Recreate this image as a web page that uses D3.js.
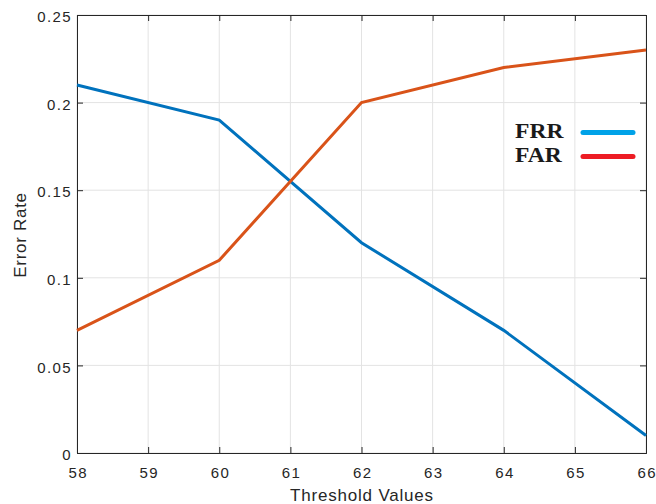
<!DOCTYPE html>
<html><head><meta charset="utf-8">
<script src="https://cdn.jsdelivr.net/npm/d3@7"></script>
<style>body{margin:0;background:#fff}svg{display:block}</style>
</head><body>
<svg id="c" width="656" height="504"></svg>
<script>
const thresholds = [58, 60, 62, 64, 66];
const frr = [0.21, 0.19, 0.12, 0.07, 0.01];
const far = [0.07, 0.11, 0.20, 0.22, 0.23];
const xTicks = [58, 59, 60, 61, 62, 63, 64, 65, 66];
const yTicks = [0, 0.05, 0.1, 0.15, 0.2, 0.25];
const legendNames = ["FRR", "FAR"];
const legendColors = ["#00a2e8", "#ed1c24"];

const svg = d3.select("#c");
const m = {l: 77, r: 10, t: 15, b: 51};
const W = 656, H = 504;
const x = d3.scaleLinear().domain([58, 66]).range([m.l, W - m.r]);
const y = d3.scaleLinear().domain([0, 0.25]).range([H - m.b, m.t]);
const font = "'Liberation Sans', Arial, sans-serif";

// grid
svg.append("g").selectAll("line").data(xTicks).join("line")
  .attr("x1", d => x(d)).attr("x2", d => x(d)).attr("y1", y(0)).attr("y2", y(0.25))
  .attr("stroke", "#e3e3e3").attr("stroke-width", 1);
svg.append("g").selectAll("line").data(yTicks).join("line")
  .attr("y1", d => y(d)).attr("y2", d => y(d)).attr("x1", x(58)).attr("x2", x(66))
  .attr("stroke", "#e3e3e3").attr("stroke-width", 1);

// axes (inward ticks)
const tickLen = 6;
const gx = svg.append("g").attr("transform", `translate(0,${y(0)})`)
  .call(d3.axisBottom(x).tickValues(xTicks).tickSize(-tickLen).tickPadding(14).tickFormat(d3.format("d")));
const gxt = svg.append("g").attr("transform", `translate(0,${y(0.25)})`)
  .call(d3.axisTop(x).tickValues(xTicks).tickSize(-tickLen).tickFormat(""));
const gy = svg.append("g").attr("transform", `translate(${x(58)},0)`)
  .call(d3.axisLeft(y).tickValues(yTicks).tickSize(-tickLen).tickPadding(5).tickFormat(d => d === 0 ? "0" : d3.format("~g")(d)));
const gyr = svg.append("g").attr("transform", `translate(${x(66)},0)`)
  .call(d3.axisRight(y).tickValues(yTicks).tickSize(-tickLen).tickFormat(""));
[gx, gxt, gy, gyr].forEach(g => {
  g.select(".domain").attr("stroke", "#262626").attr("stroke-width", 1);
  g.selectAll(".tick line").attr("stroke", "#262626");
  g.selectAll("text").attr("fill", "#262626").style("font-family", font)
    .style("font-size", "15px").style("letter-spacing", "1.4px");
});
gx.selectAll("text").attr("dy", "0.71em").attr("dx", "0.7px");
gy.selectAll("text").attr("dy", "0.45em");

// lines
const line = d3.line().x((d, i) => x(thresholds[i])).y(d => y(d));
svg.append("path").datum(frr).attr("d", line).attr("fill", "none")
  .attr("stroke", "#0072bd").attr("stroke-width", 3);
svg.append("path").datum(far).attr("d", line).attr("fill", "none")
  .attr("stroke", "#d95319").attr("stroke-width", 3);

// axis labels
svg.append("text").attr("x", 362).attr("y", 501).attr("text-anchor", "middle")
  .style("font-family", font).style("font-size", "17px").style("letter-spacing", "0.8px")
  .attr("fill", "#262626").text("Threshold Values");
svg.append("text").attr("transform", "translate(26,235) rotate(-90)").attr("text-anchor", "middle")
  .style("font-family", font).style("font-size", "17px").style("letter-spacing", "0.7px")
  .attr("fill", "#262626").text("Error Rate");

// legend
const lg = svg.append("g");
legendNames.forEach((n, i) => {
  const yy = 138 + i * 24;
  lg.append("g").attr("transform", `translate(515,${yy}) scale(1.18,1)`)
    .append("text").attr("x", 0).attr("y", 0)
    .style("font-family", "'Liberation Serif', 'Times New Roman', serif").style("font-weight", "bold")
    .style("font-size", "20px").attr("fill", "#1a1a1a").text(n);
  lg.append("line").attr("x1", 583).attr("x2", 633).attr("y1", yy - 5.5).attr("y2", yy - 5.5)
    .attr("stroke", legendColors[i]).attr("stroke-width", 5).attr("stroke-linecap", "round");
});
</script>
</body></html>
